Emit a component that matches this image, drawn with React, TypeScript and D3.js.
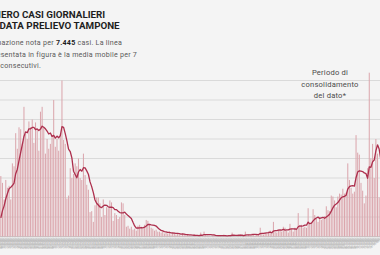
import * as d3 from "d3";

// Casi giornalieri per data prelievo tampone (2020)
const febCases = [2, 4, 7, 12, 18, 28]; // 24-29 feb
const marCases = [62, 55, 38, 58, 50, 52, 38, 75, 72, 106, 90, 112, 110, 95, 133, 105, 100, 118, 112, 120, 96, 117, 110, 88, 128, 133, 112, 85, 100, 90, 95];
const aprCases = [104, 140, 92, 100, 88, 105, 160, 99, 95, 39, 42, 70, 60, 64, 75, 72, 80, 60, 58, 85, 63, 53, 48, 25, 26, 15, 32, 40, 40, 34];
const mayCases = [20, 38, 22, 30, 29, 37, 35, 16, 24, 22, 18, 20, 35, 34, 22, 10, 11, 8, 10, 7, 8, 6, 11, 12, 10, 8, 12, 17, 16, 12, 9];
const junCases = [8, 6, 7, 5, 5, 4, 5, 3, 4, 3, 5, 2, 3, 4, 2, 3, 2, 1, 3, 2, 1, 2, 1, 1, 0, 2, 1, 1, 0, 4];
const julCases = [1, 5, 2, 1, 1, 0, 1, 2, 1, 0, 1, 1, 0, 2, 1, 0, 1, 1, 4, 1, 0, 1, 1, 2, 0, 1, 5, 1, 2, 1, 3];
const augCases = [2, 1, 3, 2, 9, 3, 2, 4, 3, 5, 6, 4, 15, 5, 4, 7, 6, 5, 10, 9, 6, 4, 13, 8, 5, 9, 7, 24, 10, 12, 9];
const sepCases = [10, 9, 29, 13, 14, 28, 22, 18, 15, 20, 17, 18, 21, 31, 27, 26, 42, 41, 37, 30, 41, 44, 43, 49, 44, 45, 75, 58, 50, 44];
const octCases = [46, 104, 86, 84, 55, 47, 34, 42, 70, 168, 80, 95, 60, 100, 85, 40, 90, 100];

const firstDay = Date.UTC(2020, 1, 24);
const gridValues = [20, 40, 60, 80, 100, 120, 140, 160];

const titleLines = ["NUMERO CASI GIORNALIERI", "PER DATA PRELIEVO TAMPONE"];
const noteTotal = "7.445";
const annotationLines = ["Periodo di", "consolidamento", "del dato*"];

const W = 380;
const H = 255;
const DAY = 86400000;

const cases = [
  ...febCases, ...marCases, ...aprCases, ...mayCases, ...junCases,
  ...julCases, ...augCases, ...sepCases, ...octCases,
];
const days = cases.map((v, i) => ({ date: new Date(firstDay + i * DAY), value: v }));

// media mobile a 7 giorni (finestra che termina nel giorno)
const rolling = days
  .map((d, i) => (i < 6 ? null : { date: d.date, value: d3.mean(cases.slice(i - 6, i + 1)) as number }))
  .filter((d): d is { date: Date; value: number } => d !== null);

export default function App() {
  const x = d3
    .scaleUtc()
    .domain([new Date(Date.UTC(2020, 2, 1)), new Date(Date.UTC(2020, 9, 17))])
    .range([0, W]);
  const y = d3.scaleLinear().domain([0, 160]).range([236.5, 80.5]);

  const step = x(new Date(firstDay + DAY)) - x(new Date(firstDay));
  const barW = step * 0.62;

  const line = d3
    .line<{ date: Date; value: number }>()
    .x((d) => x(d.date) + step / 2)
    .y((d) => y(d.value))
    .curve(d3.curveLinear);

  const fmt = d3.utcFormat("%d/%m/%Y");
  const textX = -21;

  return (
    <svg
      width={W}
      height={H}
      style={{ position: "fixed", left: 0, top: 0, display: "block" }}
      fontFamily="Roboto, 'Noto Sans', sans-serif"
    >
      <rect width={W} height={H} fill="#f4f4f4" />

      {titleLines.map((t, i) => (
        <text key={t} x={textX} y={17.5 + i * 11.8} fontSize={9.8} fontWeight={700} fill="#1e1e1e">
          {t}
        </text>
      ))}

      <g fontSize={7.1} fill="#5a5a5a" letterSpacing={0.25}>
        <text x={textX} y={45}>
          Informazione nota per <tspan fontWeight={700} fill="#1e1e1e">{noteTotal}</tspan>{"  "}casi. La linea
        </text>
        <text x={textX} y={56.5}>rappresentata in figura è la media mobile per 7</text>
        <text x={textX} y={68}>giorni consecutivi.</text>
      </g>

      {gridValues.map((v) => (
        <line key={v} x1={0} x2={W} y1={y(v)} y2={y(v)} stroke="#dadada" strokeWidth={1} />
      ))}
      <line x1={0} x2={W} y1={y(0)} y2={y(0)} stroke="#c8c8c8" strokeWidth={1} />

      <g fill="#dba6ad">
        {days.map((d) => (
          <rect
            key={d.date.getTime()}
            x={x(d.date) + (step - barW) / 2}
            y={y(d.value)}
            width={barW}
            height={y(0) - y(d.value)}
          />
        ))}
      </g>

      <path d={line(rolling) ?? ""} fill="none" stroke="#ad2f4d" strokeWidth={1.3} strokeLinejoin="round" />

      <g fontSize={3} fill="#a8a8a8" textAnchor="end">
        {days.map((d) => {
          const cx = x(d.date) + step / 2;
          return (
            <text key={d.date.getTime()} transform={`translate(${cx},${239}) rotate(-40)`}>
              {fmt(d.date)}
            </text>
          );
        })}
      </g>

      <g fontSize={7.6} fill="#4a4a4a" textAnchor="middle" letterSpacing={0.2}>
        {annotationLines.map((t, i) => (
          <text key={t} x={330} y={75 + i * 11.6}>
            {t}
          </text>
        ))}
      </g>
    </svg>
  );
}
